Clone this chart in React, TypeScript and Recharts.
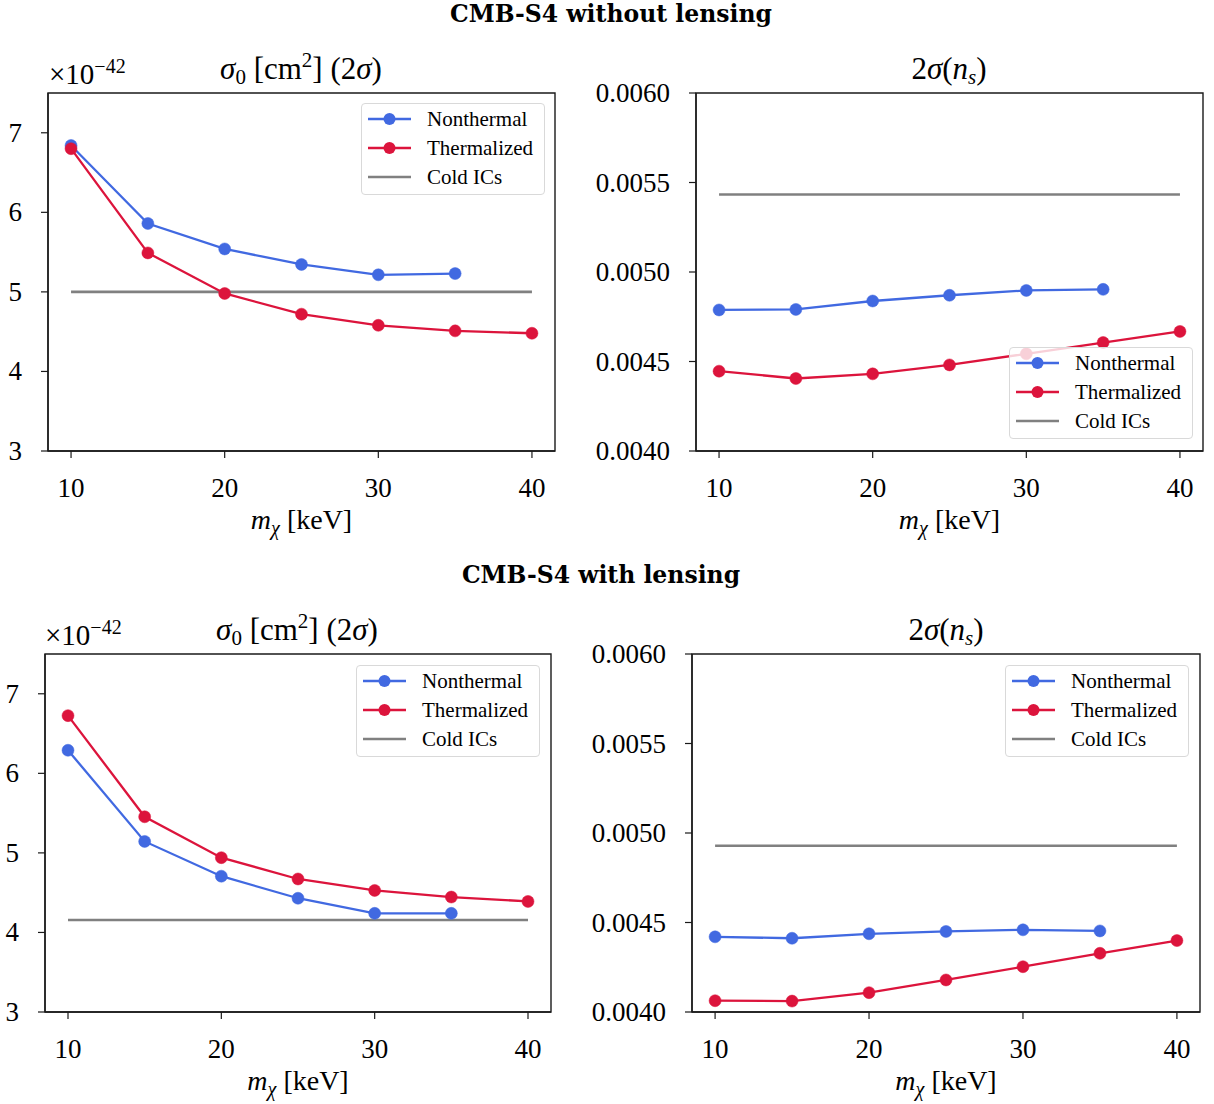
import React from 'react';
import { LineChart, Line, XAxis, YAxis, Legend, ReferenceArea } from 'recharts';

// ---------- data ----------
const MASSES = [10, 15, 20, 25, 30, 35, 40];
const X_TICKS = [10, 20, 30, 40];
const SIGMA_TICKS = [3, 4, 5, 6, 7];
const NS_TICKS = [0.004, 0.0045, 0.005, 0.0055, 0.006];

// CMB-S4 without lensing
const NOLENS_SIGMA_NONTHERMAL = [6.84, 5.86, 5.54, 5.345, 5.215, 5.23];
const NOLENS_SIGMA_THERMALIZED = [6.8, 5.49, 4.98, 4.72, 4.58, 4.51, 4.48];
const NOLENS_SIGMA_COLD = 5.0;
const NOLENS_NS_NONTHERMAL = [0.004788, 0.004791, 0.004838, 0.00487, 0.004897, 0.004903];
const NOLENS_NS_THERMALIZED = [0.004446, 0.004405, 0.004431, 0.004481, 0.004543, 0.004606, 0.004668];
const NOLENS_NS_COLD = 0.005433;

// CMB-S4 with lensing
const LENS_SIGMA_NONTHERMAL = [6.29, 5.144, 4.707, 4.43, 4.24, 4.24];
const LENS_SIGMA_THERMALIZED = [6.725, 5.454, 4.94, 4.672, 4.528, 4.445, 4.39];
const LENS_SIGMA_COLD = 4.157;
const LENS_NS_NONTHERMAL = [0.00442, 0.004412, 0.004437, 0.00445, 0.004459, 0.004453];
const LENS_NS_THERMALIZED = [0.004063, 0.004061, 0.004108, 0.004179, 0.004253, 0.004328, 0.004399];
const LENS_NS_COLD = 0.004929;

const SERIES = [
  { key: 'nonthermal', name: 'Nonthermal', color: '#4169E1', marker: true },
  { key: 'thermalized', name: 'Thermalized', color: '#DC143C', marker: true },
  { key: 'cold', name: 'Cold ICs', color: '#808080', marker: false },
];

const FONT = '"Liberation Serif", "Times New Roman", serif';
const TICK_FS = 27;

function buildRows(nt: number[], th: number[], cold: number) {
  return MASSES.map((m, i) => ({
    m,
    nonthermal: nt[i],
    thermalized: th[i],
    cold: i === 0 || i === MASSES.length - 1 ? cold : undefined,
  }));
}

const XLabel = (props: any) => {
  const vb = props.viewBox || {};
  const cx = vb.x + vb.width / 2;
  const y = vb.y + 78;
  return (
    <text x={cx} y={y} textAnchor="middle" fontFamily={FONT} fontSize={28} fill="#000">
      <tspan fontStyle="italic">m</tspan>
      <tspan fontStyle="italic" fontSize={20} dy={6}>χ</tspan>
      <tspan dy={-6}>{' [keV]'}</tspan>
    </text>
  );
};

// x passed in = axis + tickSize + tickMargin (7 + 4)
const XTick = (props: any) => {
  const { x, y, payload } = props;
  return (
    <text x={x} y={y + 35} textAnchor="middle" fontFamily={FONT} fontSize={TICK_FS} fill="#000">
      {String(payload.value)}
    </text>
  );
};

const makeYTick = (fmt: (v: number) => string) => (props: any) => {
  const { x, y, payload } = props;
  return (
    <text x={x - 9} y={y + 9} textAnchor="end" fontFamily={FONT} fontSize={TICK_FS} fill="#000">
      {fmt(payload.value)}
    </text>
  );
};

const LegendBox = (props: any) => {
  const payload = (props.payload || []).slice();
  const order = SERIES.map((s) => s.key);
  payload.sort((a: any, b: any) => order.indexOf(a.dataKey) - order.indexOf(b.dataKey));
  return (
    <div
      style={{
        width: 184,
        height: 92,
        boxSizing: 'border-box',
        border: '1.3px solid #d9d9d9',
        borderRadius: 4,
        background: 'rgba(255,255,255,0.8)',
        position: 'relative',
      }}
    >
      <svg width={184} height={92} style={{ display: 'block', position: 'absolute', left: -1, top: -1 }}>
        {payload.map((p: any, i: number) => {
          const s = SERIES.find((q) => q.key === p.dataKey)!;
          const cy = 16 + i * 29;
          return (
            <g key={p.dataKey}>
              <line x1={7} x2={50} y1={cy} y2={cy} stroke={s.color} strokeWidth={2.4} />
              {s.marker && <circle cx={28.5} cy={cy} r={6} fill={s.color} />}
              <text x={66} y={cy + 7} fontFamily={FONT} fontSize={21} fill="#000">
                {s.name}
              </text>
            </g>
          );
        })}
      </svg>
    </div>
  );
};

type PanelProps = {
  frame: { x: number; y: number; w: number; h: number };
  rows: any[];
  yDomain: [number, number];
  yTicks: number[];
  yFmt: (v: number) => string;
  yAxisWidth: number;
  legendPos: { top?: number; bottom?: number; right: number };
};

const MT = 30;
const MR = 12;
const XH = 92;
const LW = 184;
const LH = 92;
const X_DOMAIN: [number, number] = [8.5, 41.5];

function Panel({ frame, rows, yDomain, yTicks, yFmt, yAxisWidth, legendPos }: PanelProps) {
  const width = yAxisWidth + frame.w + MR;
  const height = MT + frame.h + XH;
  const legendLeft = yAxisWidth + frame.w - legendPos.right - LW;
  const legendTop =
    legendPos.top !== undefined ? MT + legendPos.top : MT + frame.h - (legendPos.bottom || 0) - LH;
  const axisColor = '#1a1a1a';
  const YTick = makeYTick(yFmt);
  return (
    <div style={{ position: 'absolute', left: frame.x - yAxisWidth, top: frame.y - MT, fontFamily: FONT }}>
      <LineChart
        width={width}
        height={height}
        data={rows}
        margin={{ top: MT, right: MR, left: 0, bottom: 0 }}
        style={{ fontFamily: FONT }}
      >
        <XAxis
          dataKey="m"
          type="number"
          domain={X_DOMAIN}
          ticks={X_TICKS}
          allowDataOverflow
          height={XH}
          tickSize={7}
          tickMargin={4}
          axisLine={{ stroke: axisColor, strokeWidth: 1.4 }}
          tickLine={{ stroke: axisColor, strokeWidth: 1.2 }}
          tick={<XTick />}
          label={(p: any) => <XLabel {...p} />}
        />
        <YAxis
          type="number"
          domain={yDomain}
          ticks={yTicks}
          allowDataOverflow
          width={yAxisWidth}
          tickSize={7}
          tickMargin={10}
          axisLine={{ stroke: axisColor, strokeWidth: 1.4 }}
          tickLine={{ stroke: axisColor, strokeWidth: 1.2 }}
          tick={<YTick />}
        />
        <ReferenceArea
          x1={X_DOMAIN[0]}
          x2={X_DOMAIN[1]}
          y1={yDomain[0]}
          y2={yDomain[1]}
          fill="none"
          fillOpacity={0}
          stroke={axisColor}
          strokeWidth={1.4}
          ifOverflow="visible"
        />
        <Line
          dataKey="cold"
          name="Cold ICs"
          stroke="#808080"
          strokeWidth={2.6}
          dot={false}
          connectNulls
          isAnimationActive={false}
          type="linear"
        />
        <Line
          dataKey="nonthermal"
          name="Nonthermal"
          stroke="#4169E1"
          strokeWidth={2.3}
          dot={{ r: 6, fill: '#4169E1', stroke: '#4169E1', strokeWidth: 0.5 }}
          isAnimationActive={false}
          type="linear"
        />
        <Line
          dataKey="thermalized"
          name="Thermalized"
          stroke="#DC143C"
          strokeWidth={2.3}
          dot={{ r: 6, fill: '#DC143C', stroke: '#DC143C', strokeWidth: 0.5 }}
          isAnimationActive={false}
          type="linear"
        />
        <Legend
          layout="horizontal"
          verticalAlign="middle"
          align="center"
          content={<LegendBox />}
          wrapperStyle={{ left: legendLeft, top: legendTop, width: LW, height: LH, bottom: 'auto', right: 'auto' }}
        />
      </LineChart>
    </div>
  );
}

const SigmaTitle = ({ cx, y }: { cx: number; y: number }) => (
  <text x={cx} y={y} textAnchor="middle" fontFamily={FONT} fontSize={31} fill="#000">
    <tspan fontStyle="italic">σ</tspan>
    <tspan fontSize={21} dy={5}>0</tspan>
    <tspan dy={-5}>{' [cm'}</tspan>
    <tspan fontSize={21} dy={-12}>2</tspan>
    <tspan dy={12}>{'] (2'}</tspan>
    <tspan fontStyle="italic">σ</tspan>
    <tspan>)</tspan>
  </text>
);

const NsTitle = ({ cx, y }: { cx: number; y: number }) => (
  <text x={cx} y={y} textAnchor="middle" fontFamily={FONT} fontSize={31} fill="#000">
    <tspan>2</tspan>
    <tspan fontStyle="italic">σ</tspan>
    <tspan>(</tspan>
    <tspan fontStyle="italic">n</tspan>
    <tspan fontStyle="italic" fontSize={21} dy={5}>s</tspan>
    <tspan dy={-5}>)</tspan>
  </text>
);

const Multiplier = ({ x, y }: { x: number; y: number }) => (
  <text x={x} y={y} fontFamily={FONT} fontSize={29} fill="#000">
    <tspan>×10</tspan>
    <tspan fontSize={20} dy={-11}>−42</tspan>
  </text>
);

export default function App() {
  const sigmaFmt = (v: number) => String(v);
  const nsFmt = (v: number) => v.toFixed(4);
  return (
    <div
      style={{
        position: 'fixed',
        left: 0,
        top: 0,
        width: 1214,
        height: 1104,
        background: '#fff',
        overflow: 'hidden',
      }}
    >
      <svg width={1214} height={1104} style={{ position: 'absolute', left: 0, top: 0 }}>
        <text x={611} y={22} textAnchor="middle" fontFamily='"DejaVu Serif", serif' fontWeight="bold" fontSize={23.5} fill="#000">
          CMB-S4 without lensing
        </text>
        <text x={601} y={583} textAnchor="middle" fontFamily='"DejaVu Serif", serif' fontWeight="bold" fontSize={23.5} fill="#000">
          CMB-S4 with lensing
        </text>
        <SigmaTitle cx={301} y={79} />
        <NsTitle cx={949} y={79} />
        <Multiplier x={49} y={84} />
        <SigmaTitle cx={297} y={640} />
        <NsTitle cx={946} y={640} />
        <Multiplier x={45} y={645} />
      </svg>
      <Panel
        frame={{ x: 48, y: 93, w: 507, h: 358 }}
        rows={buildRows(NOLENS_SIGMA_NONTHERMAL, NOLENS_SIGMA_THERMALIZED, NOLENS_SIGMA_COLD)}
        yDomain={[3, 7.5]}
        yTicks={SIGMA_TICKS}
        yFmt={sigmaFmt}
        yAxisWidth={48}
        legendPos={{ top: 10, right: 10 }}
      />
      <Panel
        frame={{ x: 696, y: 93, w: 507, h: 358 }}
        rows={buildRows(NOLENS_NS_NONTHERMAL, NOLENS_NS_THERMALIZED, NOLENS_NS_COLD)}
        yDomain={[0.004, 0.006]}
        yTicks={NS_TICKS}
        yFmt={nsFmt}
        yAxisWidth={120}
        legendPos={{ bottom: 12, right: 10 }}
      />
      <Panel
        frame={{ x: 45, y: 654, w: 506, h: 358 }}
        rows={buildRows(LENS_SIGMA_NONTHERMAL, LENS_SIGMA_THERMALIZED, LENS_SIGMA_COLD)}
        yDomain={[3, 7.5]}
        yTicks={SIGMA_TICKS}
        yFmt={sigmaFmt}
        yAxisWidth={45}
        legendPos={{ top: 11, right: 11 }}
      />
      <Panel
        frame={{ x: 692, y: 654, w: 508, h: 358 }}
        rows={buildRows(LENS_NS_NONTHERMAL, LENS_NS_THERMALIZED, LENS_NS_COLD)}
        yDomain={[0.004, 0.006]}
        yTicks={NS_TICKS}
        yFmt={nsFmt}
        yAxisWidth={120}
        legendPos={{ top: 11, right: 11 }}
      />
    </div>
  );
}
